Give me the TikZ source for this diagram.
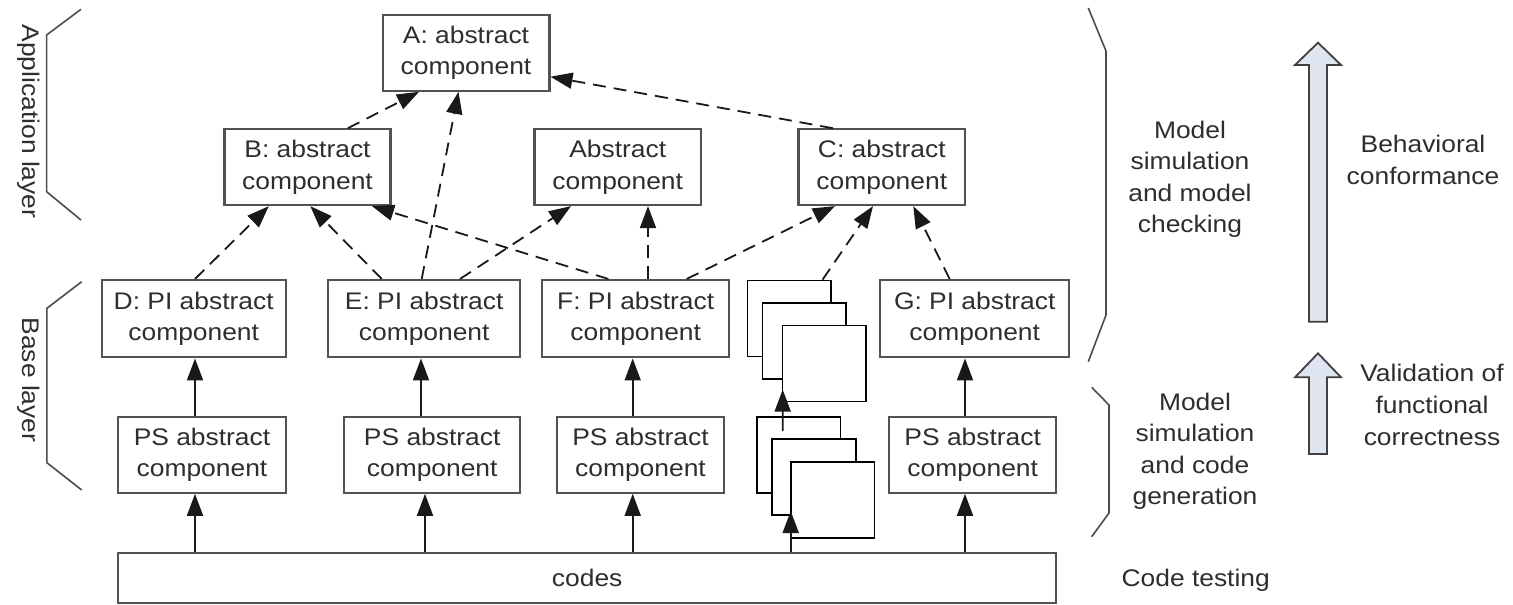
\documentclass[tikz,border=0pt]{standalone}
\usepackage{fontspec}
\setmainfont{Liberation Sans}[FakeStretch=1.1]
\usetikzlibrary{arrows.meta}
\definecolor{arrowfill}{RGB}{222,228,240}
\begin{document}
\begin{tikzpicture}[x=1pt,y=-1pt,
  every node/.style={font=\fontsize{24}{31.6}\selectfont, text=black!82, inner sep=0pt},
  comp/.style={draw=black!68, line width=2.2pt, fill=white, align=center},
  upper/.style={comp, minimum height=75.7pt},
  pibox/.style={comp, minimum height=77.3pt},
  psbox/.style={comp, minimum height=76pt},
  blankbox/.style={draw=black, line width=1.6pt, fill=white, minimum width=83.5pt, minimum height=76pt},
  solidarrow/.style={draw=black!90, line width=1.8pt, -{Triangle[length=22pt,width=16pt]}},
  dasharrow/.style={solidarrow, dash pattern=on 13pt off 8pt},
  bracketline/.style={draw=black!70, line width=1.6pt},
  bigarrow/.style={draw=black!75, line width=1.8pt, fill=arrowfill, line join=miter}
]
\useasboundingbox (0,0) rectangle (1513,605);
\fill[white] (0,0) rectangle (1513,605);

% application layer components
\node[upper, minimum width=166.8pt] (A)   at (466,52.9)   {A: abstract\\component};
\node[upper, minimum width=166pt]   (B)   at (307.5,167.2) {B: abstract\\component};
\node[upper, minimum width=166.5pt] (Abs) at (617.7,167.2) {Abstract\\component};
\node[upper, minimum width=166.5pt] (C)   at (881.8,167.2) {C: abstract\\component};

% base layer: PI components
\node[pibox, minimum width=184pt]   (D) at (193.7,318.7) {D: PI abstract\\component};
\node[pibox, minimum width=191.7pt] (E) at (424.2,318.7) {E: PI abstract\\component};
\node[pibox, minimum width=186.7pt] (F) at (635.7,318.7) {F: PI abstract\\component};
\node[pibox, minimum width=189.3pt] (G) at (974.7,318.7) {G: PI abstract\\component};

% base layer: PS components
\node[psbox, minimum width=167.4pt] (PSa) at (202,454.7)   {PS abstract\\component};
\node[psbox, minimum width=175.7pt] (PSb) at (432.2,454.7) {PS abstract\\component};
\node[psbox, minimum width=167.6pt] (PSc) at (640.5,454.7) {PS abstract\\component};
\node[psbox, minimum width=166.7pt] (PSd) at (972.7,454.7) {PS abstract\\component};

% code base
\node[comp, minimum width=937.7pt, minimum height=50pt] (codes) at (587.2,578.3) {codes};

% stacked components
\node[blankbox] (S1) at (789.4,318.4) {};
\node[blankbox] (S2) at (804.4,340.8) {};
\node[blankbox] (S3) at (824.4,363.5) {};
\node[blankbox] (L1) at (798.6,454.7) {};
\draw[solidarrow] ([xshift=-15.9pt,yshift=-15pt]L1.north) -- ([xshift=-21.7pt,yshift=-10pt]S2.south);
\node[blankbox] (L2) at (814.0,477.2) {};
\node[blankbox] (L3) at (832.8,499.7) {};
\draw[solidarrow] ([xshift=203.5pt]codes.north) -- ([xshift=-23.3pt,yshift=5pt]L2.south);

% refinement arrows (dashed)
\draw[dasharrow] ([xshift=1.3pt]D.north)   -- ([xshift=-38.7pt]B.south);
\draw[dasharrow] ([xshift=-42.5pt]E.north) -- ([xshift=2.8pt]B.south);
\draw[dasharrow] ([xshift=-2.5pt]E.north)  -- ([xshift=-7.5pt]A.south);
\draw[dasharrow] ([xshift=35.8pt]E.north)  -- ([xshift=-46.7pt]Abs.south);
\draw[dasharrow] ([xshift=-27.4pt]F.north) -- ([xshift=64.5pt]B.south);
\draw[dasharrow] ([xshift=12.3pt]F.north)  -- ([xshift=30.3pt]Abs.south);
\draw[dasharrow] ([xshift=51pt]F.north)    -- ([xshift=-46.9pt]C.south);
\draw[dasharrow] ([xshift=33.2pt]S1.north) -- ([xshift=-8.8pt]C.south);
\draw[dasharrow] ([xshift=-25pt]G.north)   -- ([xshift=31.5pt]C.south);
\draw[dasharrow] ([xshift=40.3pt]B.north)  -- ([xshift=-47pt]A.south);
\draw[dasharrow] ([xshift=-48.8pt]C.north) -- ([yshift=-23.8pt]A.east);

% implementation arrows (solid)
\draw[solidarrow] ([xshift=-7pt]PSa.north)  -- ([xshift=1.3pt]D.south);
\draw[solidarrow] ([xshift=-11.2pt]PSb.north) -- ([xshift=-3.2pt]E.south);
\draw[solidarrow] ([xshift=-7.8pt]PSc.north) -- ([xshift=-3pt]F.south);
\draw[solidarrow] ([xshift=-7.7pt]PSd.north) -- ([xshift=-9.7pt]G.south);
\draw[solidarrow] ([xshift=-392.2pt]codes.north) -- ([xshift=-7pt]PSa.south);
\draw[solidarrow] ([xshift=-162.2pt]codes.north) -- ([xshift=-7.2pt]PSb.south);
\draw[solidarrow] ([xshift=45.5pt]codes.north)   -- ([xshift=-7.8pt]PSc.south);
\draw[solidarrow] ([xshift=377.8pt]codes.north)  -- ([xshift=-7.7pt]PSd.south);

% layer brackets on the left
\draw[bracketline] (81,9.3) -- (46.6,35) -- (46.6,191.7) -- (81,220);
\draw[bracketline] (81.7,281.7) -- (46.9,308.3) -- (46.9,462.7) -- (81.7,490);
\node[rotate=-90] (applbl) at (28.5,121.5) {Application layer};
\node[rotate=-90] (baselbl) at (29,380) {Base layer};

% activity brackets on the right
\draw[bracketline] (1088.3,8) -- (1106,51) -- (1106,315) -- (1088.3,361.7);
\draw[bracketline] (1091.7,387.3) -- (1109,405) -- (1109,513) -- (1091.7,536.7);
\node[align=center] (mchk) at (1190,179.2) {Model\\simulation\\and model\\checking};
\node[align=center] (mgen) at (1195,451.2) {Model\\simulation\\and code\\generation};
\node[anchor=base] (ctest) at (1195.7,586.7) {Code testing};

% validation arrows
\draw[bigarrow] (1309,321.7) -- (1309,65) -- (1295,65) -- (1318,42.7) -- (1341,65) -- (1327,65) -- (1327,321.7) -- cycle;
\draw[bigarrow] (1309,454) -- (1309,377.3) -- (1295,377.3) -- (1318,353.3) -- (1341,377.3) -- (1327,377.3) -- (1327,454) -- cycle;
\node[align=center] (behav) at (1423,160) {Behavioral\\conformance};
\node[align=center] (valid) at (1432,404.9) {Validation of\\functional\\correctness};
\end{tikzpicture}
\end{document}
